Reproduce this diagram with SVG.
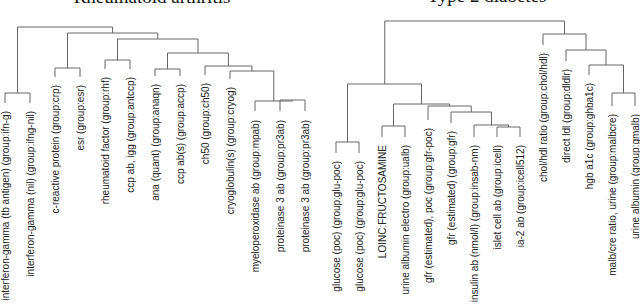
<svg xmlns="http://www.w3.org/2000/svg" width="640" height="305" viewBox="0 0 640 305">
<style>
.title{font-family:"Liberation Serif",serif;font-size:19px;fill:#111;text-anchor:middle}
.lbl{font-family:"Liberation Sans",Arial,sans-serif;font-size:10px;fill:#222;text-anchor:end}
.ln{fill:none;stroke:#666;stroke-width:1}
</style>
<rect width="640" height="305" fill="#fff"/>
<text class="title" x="152" y="3">Rheumatoid arthritis</text>
<text class="title" x="487" y="2">Type 2 diabetes</text>
<g id="connectors" class="ln">
<path d="M5 103V93H30V103"/>
<path d="M55 77V68H80V77"/>
<path d="M105 69V60H130V69"/>
<path d="M155 76V69H180V76"/>
<path d="M280 111V100H305V111"/>
<path d="M255 111V101H292.5V100"/>
<path d="M230 79V71H273.75V101"/>
<path d="M205 75V66H251.9V71"/>
<path d="M167.5 69V53H228.4V66"/>
<path d="M117.5 60V39H198V53"/>
<path d="M67.5 68V33H157.75V39"/>
<path d="M17.5 93V27H112.6V33"/>
<path d="M336 153V142H359V153"/>
<path d="M382 137V126H405V137"/>
<path d="M497 137V127H520V137"/>
<path d="M474 137V125H508.5V127"/>
<path d="M451 123V112H491.5V125"/>
<path d="M428 120V106H471.25V112"/>
<path d="M393.5 126V104H449.6V106"/>
<path d="M347.5 142V84H421.5V104"/>
<path d="M612 106V93H635V106"/>
<path d="M589 75V65H623.5V93"/>
<path d="M566 61V50H606V65"/>
<path d="M543 45V34H586V50"/>
<path d="M384.75 84V21H564.5V34"/>
</g>
<g id="leaf-ifn-g"><text class="lbl" transform="translate(8.5,111) rotate(-90)">interferon-gamma (tb antigen) (group:ifn-g)</text></g>
<g id="leaf-ifng-nil"><text class="lbl" transform="translate(33.5,111) rotate(-90)">interferon-gamma (nil) (group:ifng-nil)</text></g>
<g id="leaf-crp"><text class="lbl" transform="translate(58.5,85) rotate(-90)">c-reactive protein (group:crp)</text></g>
<g id="leaf-esr"><text class="lbl" transform="translate(83.5,85) rotate(-90)">esr (group:esr)</text></g>
<g id="leaf-rhf"><text class="lbl" transform="translate(108.5,77) rotate(-90)">rheumatoid factor (group:rhf)</text></g>
<g id="leaf-antccp"><text class="lbl" transform="translate(133.5,77) rotate(-90)">ccp ab, igg (group:antccp)</text></g>
<g id="leaf-anaqn"><text class="lbl" transform="translate(158.5,84) rotate(-90)">ana (quant) (group:anaqn)</text></g>
<g id="leaf-accp"><text class="lbl" transform="translate(183.5,84) rotate(-90)">ccp ab(s) (group:accp)</text></g>
<g id="leaf-ch50"><text class="lbl" transform="translate(208.5,83) rotate(-90)">ch50 (group:ch50)</text></g>
<g id="leaf-cryog"><text class="lbl" transform="translate(233.5,87) rotate(-90)">cryoglobulin(s) (group:cryog)</text></g>
<g id="leaf-mpab"><text class="lbl" transform="translate(258.5,120) rotate(-90)">myeloperoxidase ab (group:mpab)</text></g>
<g id="leaf-pr3ab-1"><text class="lbl" transform="translate(283.5,120) rotate(-90)">proteinase 3 ab (group:pr3ab)</text></g>
<g id="leaf-pr3ab-2"><text class="lbl" transform="translate(308.5,120) rotate(-90)">proteinase 3 ab (group:pr3ab)</text></g>
<g id="leaf-glu-poc-1"><text class="lbl" transform="translate(339.5,161) rotate(-90)">glucose (poc) (group:glu-poc)</text></g>
<g id="leaf-glu-poc-2"><text class="lbl" transform="translate(362.5,161) rotate(-90)">glucose (poc) (group:glu-poc)</text></g>
<g id="leaf-fructosamine"><text class="lbl" transform="translate(385.5,145) rotate(-90)">LOINC:FRUCTOSAMINE</text></g>
<g id="leaf-ualb"><text class="lbl" transform="translate(408.5,145) rotate(-90)">urine albumin electro (group:ualb)</text></g>
<g id="leaf-gfr-poc"><text class="lbl" transform="translate(431.5,128) rotate(-90)">gfr (estimated), poc (group:gfr-poc)</text></g>
<g id="leaf-gfr"><text class="lbl" transform="translate(454.5,131) rotate(-90)">gfr (estimated) (group:gfr)</text></g>
<g id="leaf-insab-nm"><text class="lbl" transform="translate(477.5,145) rotate(-90)">insulin ab (nmol/l) (group:insab-nm)</text></g>
<g id="leaf-icell"><text class="lbl" transform="translate(500.5,145) rotate(-90)">islet cell ab (group:icell)</text></g>
<g id="leaf-icell512"><text class="lbl" transform="translate(523.5,145) rotate(-90)">ia-2 ab (group:icell512)</text></g>
<g id="leaf-chol-hdl"><text class="lbl" transform="translate(546.5,53) rotate(-90)">chol/hdl ratio (group:chol/hdl)</text></g>
<g id="leaf-dldlr"><text class="lbl" transform="translate(569.5,69) rotate(-90)">direct ldl (group:dldlr)</text></g>
<g id="leaf-ghba1c"><text class="lbl" transform="translate(592.5,83) rotate(-90)">hgb a1c (group:ghba1c)</text></g>
<g id="leaf-malbcre"><text class="lbl" transform="translate(615.5,114) rotate(-90)">malb/cre ratio, urine (group:malbcre)</text></g>
<g id="leaf-gmalb"><text class="lbl" transform="translate(638.5,114) rotate(-90)">urine albumin (group:gmalb)</text></g>
</svg>
